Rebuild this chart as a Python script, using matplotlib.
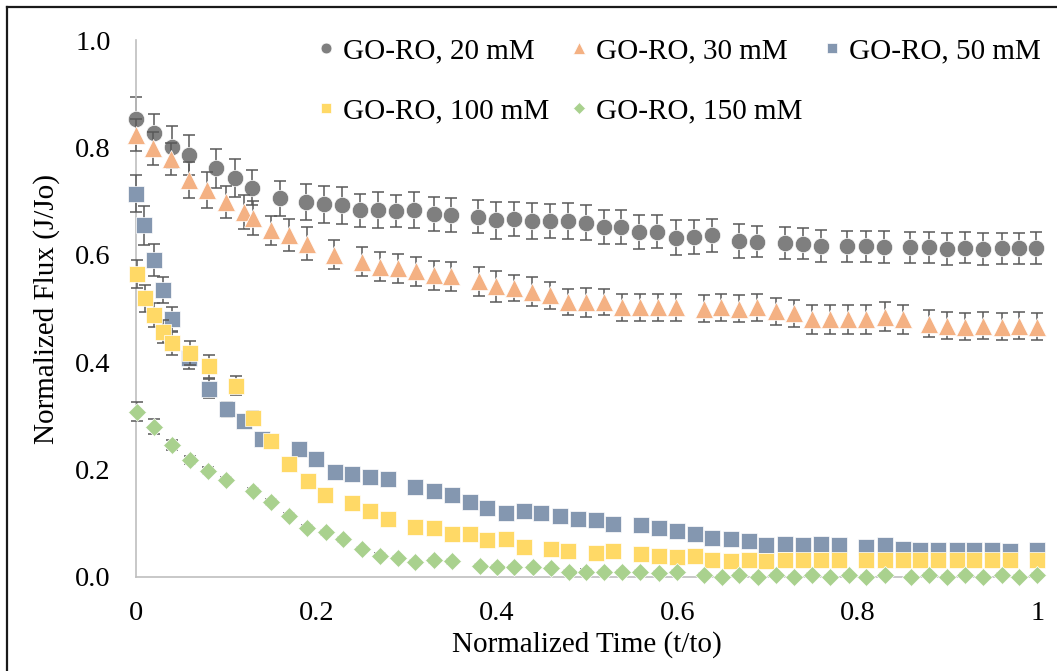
import matplotlib
matplotlib.use("Agg")
import matplotlib.pyplot as plt
from matplotlib.lines import Line2D

plt.rcParams["font.family"] = ["Liberation Serif", "DejaVu Serif"]

# ---- data -------------------------------------------------------------
labels = ["GO-RO, 20 mM", "GO-RO, 30 mM", "GO-RO, 50 mM",
          "GO-RO, 100 mM", "GO-RO, 150 mM"]

t_20 = [0.000, 0.020, 0.040, 0.059, 0.089, 0.110, 0.129, 0.160, 0.189, 0.208,
        0.228, 0.248, 0.268, 0.288, 0.308, 0.330, 0.349, 0.379, 0.399, 0.419,
        0.439, 0.459, 0.479, 0.499, 0.519, 0.538, 0.558, 0.578, 0.599, 0.619,
        0.639, 0.668, 0.689, 0.720, 0.739, 0.759, 0.788, 0.809, 0.829, 0.858,
        0.879, 0.899, 0.919, 0.939, 0.960, 0.979, 0.998]
j_20 = [0.852, 0.826, 0.801, 0.786, 0.761, 0.743, 0.725, 0.705, 0.698, 0.694,
        0.692, 0.683, 0.683, 0.681, 0.683, 0.676, 0.674, 0.671, 0.664, 0.667,
        0.663, 0.663, 0.663, 0.660, 0.652, 0.652, 0.643, 0.643, 0.632, 0.633,
        0.636, 0.626, 0.624, 0.622, 0.621, 0.616, 0.616, 0.616, 0.614, 0.614,
        0.614, 0.611, 0.613, 0.611, 0.612, 0.612, 0.613]
e_20 = [0.041, 0.037, 0.039, 0.037, 0.036, 0.035, 0.032, 0.033, 0.034, 0.034,
        0.035, 0.031, 0.034, 0.030, 0.034, 0.031, 0.032, 0.031, 0.034, 0.032,
        0.034, 0.032, 0.034, 0.033, 0.032, 0.032, 0.032, 0.031, 0.032, 0.032,
        0.030, 0.032, 0.029, 0.030, 0.029, 0.030, 0.029, 0.029, 0.030, 0.029,
        0.029, 0.030, 0.029, 0.030, 0.029, 0.029, 0.030]

t_30 = [0.000, 0.019, 0.039, 0.059, 0.079, 0.100, 0.120, 0.130, 0.150, 0.170,
        0.190, 0.220, 0.250, 0.270, 0.290, 0.310, 0.330, 0.349, 0.380, 0.399,
        0.419, 0.439, 0.459, 0.479, 0.499, 0.519, 0.539, 0.559, 0.579, 0.599,
        0.630, 0.649, 0.669, 0.689, 0.710, 0.729, 0.749, 0.769, 0.789, 0.809,
        0.830, 0.850, 0.879, 0.899, 0.919, 0.939, 0.960, 0.979, 0.999]
j_30 = [0.823, 0.798, 0.779, 0.739, 0.721, 0.699, 0.680, 0.668, 0.646, 0.637,
        0.621, 0.600, 0.587, 0.578, 0.575, 0.569, 0.562, 0.560, 0.551, 0.541,
        0.538, 0.531, 0.525, 0.512, 0.512, 0.512, 0.502, 0.502, 0.502, 0.502,
        0.500, 0.502, 0.500, 0.502, 0.495, 0.491, 0.480, 0.480, 0.480, 0.480,
        0.485, 0.480, 0.472, 0.468, 0.466, 0.468, 0.466, 0.468, 0.466]
e_30 = [0.030, 0.030, 0.030, 0.034, 0.033, 0.030, 0.032, 0.032, 0.027, 0.030,
        0.030, 0.027, 0.027, 0.027, 0.027, 0.027, 0.027, 0.027, 0.027, 0.028,
        0.024, 0.027, 0.025, 0.025, 0.027, 0.025, 0.025, 0.025, 0.025, 0.025,
        0.025, 0.025, 0.025, 0.025, 0.025, 0.025, 0.027, 0.027, 0.027, 0.027,
        0.027, 0.027, 0.025, 0.025, 0.025, 0.025, 0.025, 0.025, 0.025]

t_50 = [0.000, 0.009, 0.020, 0.030, 0.040, 0.059, 0.081, 0.101, 0.120, 0.140,
        0.181, 0.200, 0.221, 0.240, 0.259, 0.279, 0.309, 0.330, 0.350, 0.370,
        0.389, 0.410, 0.430, 0.449, 0.470, 0.490, 0.510, 0.529, 0.560, 0.580,
        0.600, 0.620, 0.639, 0.660, 0.680, 0.699, 0.720, 0.740, 0.759, 0.779,
        0.809, 0.830, 0.850, 0.869, 0.889, 0.910, 0.929, 0.949, 0.969, 0.999]
j_50 = [0.714, 0.655, 0.590, 0.534, 0.481, 0.407, 0.351, 0.312, 0.291, 0.257,
        0.238, 0.220, 0.196, 0.192, 0.187, 0.182, 0.168, 0.161, 0.153, 0.139,
        0.129, 0.119, 0.122, 0.119, 0.114, 0.108, 0.106, 0.098, 0.096, 0.091,
        0.086, 0.080, 0.072, 0.070, 0.067, 0.060, 0.062, 0.060, 0.062, 0.060,
        0.055, 0.060, 0.052, 0.050, 0.050, 0.050, 0.050, 0.050, 0.048, 0.050]
e_50 = [0.035, 0.036, 0.030, 0.024, 0.022, 0.020, 0.017, 0.014, 0.010, 0.008,
        0.006, 0.006, 0.005, 0.005, 0.005, 0.005, 0.005, 0.005, 0.005, 0.005,
        0.005, 0.005, 0.005, 0.005, 0.005, 0.005, 0.005, 0.005, 0.005, 0.005,
        0.005, 0.005, 0.005, 0.005, 0.005, 0.005, 0.005, 0.005, 0.005, 0.005,
        0.005, 0.005, 0.005, 0.005, 0.005, 0.005, 0.005, 0.005, 0.005, 0.005]

t_100 = [0.001, 0.010, 0.020, 0.030, 0.040, 0.060, 0.081, 0.111, 0.130, 0.150,
         0.170, 0.191, 0.210, 0.240, 0.259, 0.279, 0.309, 0.330, 0.350, 0.370,
         0.389, 0.410, 0.430, 0.460, 0.479, 0.510, 0.529, 0.560, 0.580, 0.600,
         0.620, 0.639, 0.660, 0.680, 0.699, 0.720, 0.740, 0.759, 0.779, 0.809,
         0.830, 0.850, 0.869, 0.889, 0.910, 0.929, 0.949, 0.969, 0.999]
j_100 = [0.564, 0.519, 0.488, 0.457, 0.435, 0.417, 0.392, 0.356, 0.297, 0.253,
         0.210, 0.179, 0.153, 0.138, 0.122, 0.108, 0.094, 0.091, 0.080, 0.080,
         0.068, 0.070, 0.055, 0.052, 0.049, 0.045, 0.049, 0.042, 0.039, 0.037,
         0.039, 0.032, 0.030, 0.032, 0.029, 0.031, 0.031, 0.031, 0.031, 0.032,
         0.031, 0.032, 0.031, 0.031, 0.031, 0.031, 0.031, 0.031, 0.031]
e_100 = [0.026, 0.025, 0.023, 0.022, 0.022, 0.023, 0.021, 0.018, 0.012, 0.010,
         0.006, 0.006, 0.005, 0.005, 0.005, 0.005, 0.005, 0.005, 0.005, 0.005,
         0.005, 0.005, 0.005, 0.005, 0.005, 0.005, 0.005, 0.005, 0.005, 0.005,
         0.005, 0.005, 0.005, 0.005, 0.005, 0.005, 0.005, 0.005, 0.005, 0.005,
         0.005, 0.005, 0.005, 0.005, 0.005, 0.005, 0.005, 0.005, 0.005]

t_150 = [0.001, 0.020, 0.040, 0.060, 0.080, 0.100, 0.130, 0.150, 0.170, 0.190,
         0.211, 0.230, 0.250, 0.271, 0.290, 0.309, 0.330, 0.350, 0.381, 0.400,
         0.419, 0.440, 0.460, 0.480, 0.499, 0.519, 0.539, 0.559, 0.580, 0.600,
         0.630, 0.650, 0.669, 0.690, 0.710, 0.729, 0.749, 0.769, 0.790, 0.809,
         0.830, 0.859, 0.879, 0.899, 0.919, 0.939, 0.960, 0.979, 0.999]
j_150 = [0.308, 0.280, 0.246, 0.218, 0.198, 0.181, 0.161, 0.140, 0.114, 0.092,
         0.083, 0.070, 0.052, 0.040, 0.035, 0.028, 0.031, 0.029, 0.020, 0.019,
         0.019, 0.019, 0.017, 0.009, 0.010, 0.009, 0.009, 0.009, 0.007, 0.009,
         0.004, 0.000, 0.004, 0.000, 0.004, 0.000, 0.004, 0.000, 0.004, 0.000,
         0.004, 0.000, 0.004, 0.000, 0.004, 0.000, 0.004, 0.000, 0.004]
e_150 = [0.018, 0.014, 0.010, 0.008, 0.006, 0.005, 0.005, 0.005, 0.005, 0.005,
         0.004, 0.004, 0.004, 0.004, 0.004, 0.004, 0.004, 0.004, 0.004, 0.004,
         0.004, 0.004, 0.004, 0.004, 0.004, 0.004, 0.004, 0.004, 0.004, 0.004,
         0.004, 0.004, 0.004, 0.004, 0.004, 0.004, 0.004, 0.004, 0.004, 0.004,
         0.004, 0.004, 0.004, 0.004, 0.004, 0.004, 0.004, 0.004, 0.004]

x_ticks = [0, 0.2, 0.4, 0.6, 0.8, 1.0]
x_ticklabels = ["0", "0.2", "0.4", "0.6", "0.8", "1"]
y_ticks = [0.0, 0.2, 0.4, 0.6, 0.8, 1.0]
y_ticklabels = ["0.0", "0.2", "0.4", "0.6", "0.8", "1.0"]

# ---- styling ----------------------------------------------------------
series = [
    (t_20, j_20, e_20, "o", "#7F7F7F", 11.8),
    (t_30, j_30, e_30, "^", "#F4B183", 12.8),
    (t_50, j_50, e_50, "s", "#8497B0", 11.5),
    (t_100, j_100, e_100, "s", "#FFD966", 11.5),
    (t_150, j_150, e_150, "D", "#A9D18E", 9.2),
]
FS = 20.5

fig = plt.figure(figsize=(10.57, 6.71), dpi=100)
ax = fig.add_axes([136 / 1057, 1 - 577 / 671, (1038 - 136) / 1057, (577 - 40) / 671])

handles = []
for i, (t, j, e, mk, col, ms) in enumerate(series):
    z = 2 + 2 * i
    ax.errorbar(t, j, yerr=e, fmt="none", ecolor="#595959", elinewidth=1.1,
                capsize=4.5, capthick=1.1, zorder=z, clip_on=False)
    h, = ax.plot(t, j, linestyle="none", marker=mk, markersize=ms,
                 markerfacecolor=col, markeredgecolor="white",
                 markeredgewidth=0.5, zorder=z + 1, clip_on=False,
                 label=labels[i])
    handles.append(h)

ax.set_xlim(0, 1)
ax.set_ylim(0, 1)
ax.set_xticks(x_ticks)
ax.set_xticklabels(x_ticklabels)
ax.set_yticks(y_ticks)
ax.set_yticklabels(y_ticklabels)
ax.tick_params(length=0, labelsize=FS)
ax.tick_params(axis="x", pad=17)
ax.tick_params(axis="y", pad=18)

for side in ("top", "right"):
    ax.spines[side].set_visible(False)
for side in ("left", "bottom"):
    ax.spines[side].set_color("#BFBFBF")
    ax.spines[side].set_linewidth(1.2)

ax.set_xlabel("Normalized Time (t/to)", fontsize=21, labelpad=4)
ax.set_ylabel("Normalized Flux (J/Jo)", fontsize=21, labelpad=11)

# legend laid out row by row in three columns
order = [0, 3, 1, 4, 2]
leg = fig.legend([handles[k] for k in order], [labels[k] for k in order],
                 loc="upper left", bbox_to_anchor=(0.3013, 0.943), ncol=3,
                 frameon=False, fontsize=21, markerscale=0.66,
                 handlelength=0.55, handletextpad=0.3, columnspacing=0.74,
                 labelspacing=1.15, borderpad=0.0, borderaxespad=0.0)

# outer frame lines
fig.add_artist(Line2D([7 / 1057, 7 / 1057], [0, 1 - 7 / 671],
                      transform=fig.transFigure, color="#1a1a1a", lw=1.6))
fig.add_artist(Line2D([7 / 1057, 1], [1 - 7 / 671, 1 - 7 / 671],
                      transform=fig.transFigure, color="#1a1a1a", lw=1.6))

fig.savefig("out.png", dpi=100)
